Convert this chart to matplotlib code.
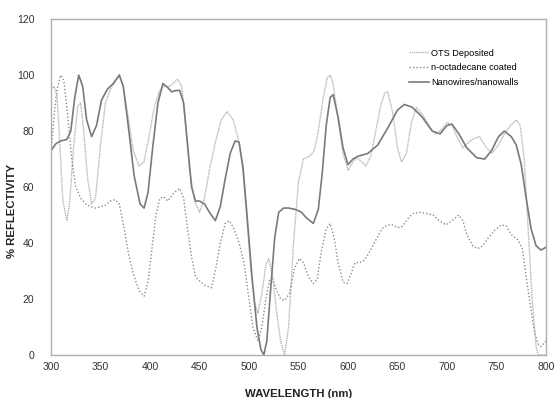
import numpy as np
import matplotlib
matplotlib.use("Agg")
import matplotlib.pyplot as plt

plt.rcParams['font.family'] = ['Liberation Sans', 'DejaVu Sans']

# OTS Deposited (light gray, fine dots)
ots_wl = [300, 303, 306, 309, 312, 316, 319, 323, 327, 330, 333, 337, 341, 345, 350,
          355, 360, 365, 369, 373, 378, 383, 389, 394, 399, 404, 409, 414, 420, 425,
          428, 432, 436, 440, 445, 450, 455, 460, 466, 472, 478, 484, 490, 494, 498,
          502, 506, 509, 513, 517, 520, 524, 528, 532, 536, 540, 545, 550, 555, 561,
          566, 570, 575, 579, 582, 585, 590, 595, 600, 605, 609, 614, 618, 623, 628,
          633, 637, 640, 645, 650, 654, 659, 664, 669, 675, 682, 688, 693, 700, 705,
          710, 716, 722, 728, 733, 738, 745, 752, 758, 764, 770, 774, 778, 782, 786,
          790, 792, 800]
ots_val = [95, 96, 93, 75, 55, 48, 55, 75, 89, 90, 80, 63, 54, 56, 75,
           90, 95, 98, 100, 96, 85, 73, 67.5, 69, 78, 88, 94, 96, 96, 97.5,
           98.5, 96, 82, 66, 55, 51, 56, 66, 76, 84, 87, 84, 76, 65, 48,
           30, 18, 15, 22, 32, 34.5, 28, 15, 5, 0, 10, 40, 62, 70, 71,
           73, 80, 92, 99, 100, 97, 84, 72, 66, 69, 70.5, 69, 67.5, 71, 80,
           89, 93.5, 94, 87, 74, 69, 72, 83, 88.5, 86, 82, 79, 80, 83, 82,
           78, 74, 76, 77.5, 78, 75, 72, 75, 79, 82, 84, 82, 70, 45, 20,
           3, 0, 0]

# n-octadecane coated (dotted)
oct_wl = [300, 303, 306, 310, 313, 317, 321, 325, 330, 335, 340, 345, 350, 355, 360,
          365, 369, 374, 379, 384, 389, 394, 398, 402, 406, 410, 414, 418, 422, 426,
          430, 434, 438, 442, 446, 450, 455, 462, 466, 471, 476, 480, 485, 490, 495,
          500, 504, 509, 513, 517, 521, 524, 528, 532, 536, 541, 546, 551, 555, 560,
          565, 569, 573, 578, 582, 586, 590, 595, 599, 603, 607, 612, 617, 622, 628,
          634, 640, 645, 650, 655, 660, 665, 672, 680, 686, 692, 699, 705, 712, 716,
          720, 726, 731, 736, 742, 748, 755, 760, 765, 772, 776, 780, 784, 788, 792,
          795, 800]
oct_val = [72, 85, 95, 100, 98, 85, 70, 60, 56, 54, 53, 52.5, 53, 53.5, 55,
           55.5, 54, 45, 35, 28, 23, 21, 26, 38, 50, 56, 56.5, 55, 57, 58.5,
           59.5, 56, 45, 35, 28, 26.5, 25, 24, 30, 40, 47, 48, 45, 40, 33,
           20, 10, 5, 10, 20, 27, 27, 23, 20, 19.5, 22, 31, 34.5, 33, 28,
           25.5, 27, 37, 45, 47, 42, 33, 26, 25.5, 29, 33, 33, 34, 37, 41,
           45, 46.5, 46.5, 45.5, 46, 48.5, 50.5, 51, 50.5, 50, 48, 46.5, 48, 50, 48,
           43, 39, 38, 39, 42, 44.5, 46.5, 46, 43, 41, 38, 28, 18, 9, 4,
           3, 5]

# Nanowires/nanowalls (solid)
nano_wl = [300, 305, 310, 316, 320, 324, 328, 332, 336, 341, 346, 351, 357, 363, 369,
           373, 378, 384, 390, 394, 398, 403, 408, 413, 418, 422, 426, 430, 434, 438,
           442, 446, 450, 455, 460, 466, 471, 476, 481, 486, 490, 494, 498, 503, 508,
           512, 515, 518, 522, 526, 530, 535, 540, 547, 553, 558, 565, 570, 574, 578,
           582, 585, 590, 595, 600, 605, 610, 620, 630, 640, 650, 657, 665, 675, 685,
           693, 700, 705, 712, 720, 730, 738, 745, 752, 758, 765, 770, 775, 780, 785,
           790, 795, 800]
nano_val = [73, 75.5, 76.5, 77, 80, 92, 100, 96, 84, 78, 82, 91, 95, 97, 100,
            96, 82, 64, 54, 52.5, 58, 75, 90, 97, 95.5, 94, 94.5, 94.5, 90, 75,
            60, 55, 55, 54, 51, 48, 53, 63, 72, 76.5, 76, 67, 50, 28, 10,
            2, 0, 5, 24, 42, 51, 52.5, 52.5, 52, 51, 49, 47, 52, 65, 82,
            92, 93, 85, 74, 68, 70, 71, 72, 75, 81, 87.5, 89.5, 88.5, 85, 80,
            79, 82, 82.5, 79, 74, 70.5, 70, 73, 78, 80, 78, 75, 68, 56, 45,
            39, 37.5, 38.5]

fig = plt.figure(figsize=(5.56, 3.98), dpi=100)
ax = fig.add_axes([0.0917, 0.108, 0.8903, 0.844])

ax.plot(ots_wl, ots_val, color='#b4b4b4', lw=1.0, ls=(0, (1, 0.6)), label='OTS Deposited')
ax.plot(oct_wl, oct_val, color='#8c8c8c', lw=1.0, ls=(0, (1, 1.5)), label='n-octadecane coated')
ax.plot(nano_wl, nano_val, color='#7a7a7a', lw=1.2, label='Nanowires/nanowalls')

ax.set_xlim(300, 800)
ax.set_ylim(0, 120)
ax.set_xticks(np.arange(300, 801, 50))
ax.set_yticks(np.arange(0, 121, 20))
ax.tick_params(length=0, labelsize=7.5, colors='#333333', pad=5)
ax.tick_params(axis='y', pad=12)
for s in ax.spines.values():
    s.set_color('#b0b0b0')
    s.set_linewidth(1.0)

ax.set_xlabel('WAVELENGTH (nm)', fontsize=8.2, fontweight='bold', color='#222222', labelpad=12)
ax.set_ylabel('% REFLECTIVITY', fontsize=8.2, fontweight='bold', color='#222222')
ax.yaxis.set_label_coords(-0.069, 0.43)

ax.legend(loc='upper left', bbox_to_anchor=(0.723, 0.912), frameon=False,
          fontsize=6.6, handlelength=2.2, handletextpad=0.2, borderaxespad=0,
          borderpad=0, labelspacing=0.62)

fig.savefig('out.png', dpi=100)
